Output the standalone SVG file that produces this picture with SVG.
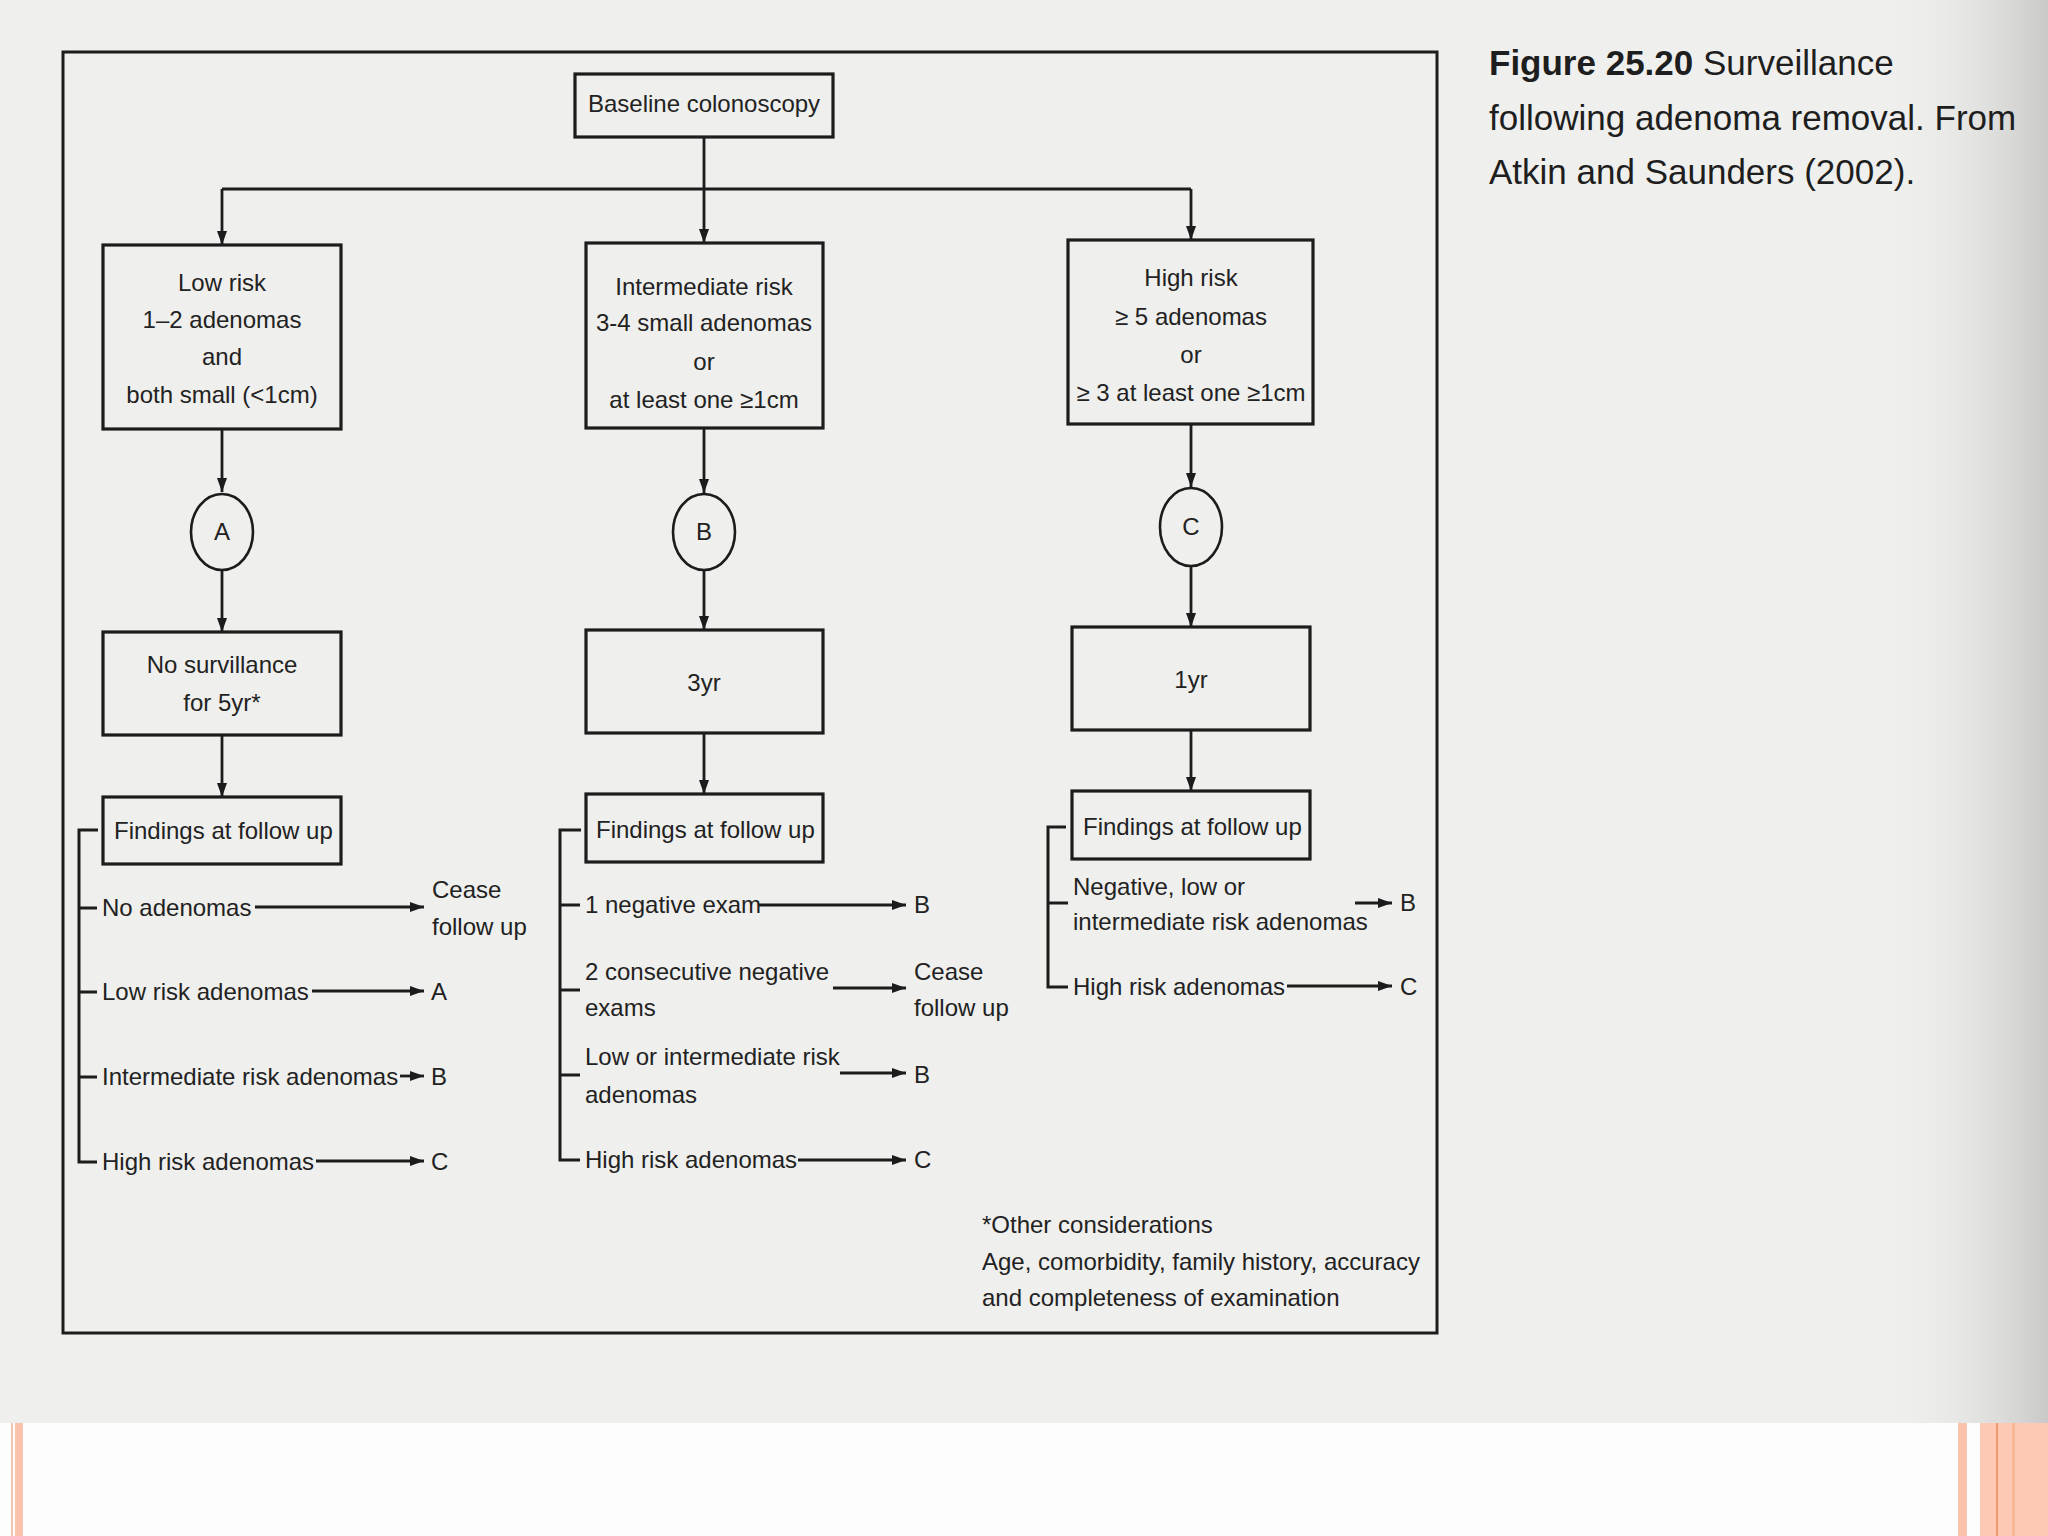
<svg xmlns="http://www.w3.org/2000/svg" width="2048" height="1536" viewBox="0 0 2048 1536">
  <defs>
    <linearGradient id="edge" x1="0" y1="0" x2="1" y2="0">
      <stop offset="0" stop-color="#efefed" stop-opacity="0"/>
      <stop offset="1" stop-color="#c9c9c7" stop-opacity="1"/>
    </linearGradient>
    <marker id="ah" viewBox="0 0 14 10" refX="14" refY="5" markerWidth="14" markerHeight="10" markerUnits="userSpaceOnUse" orient="auto">
      <path d="M0,0 L14,5 L0,10 z" fill="#1c1c1c"/>
    </marker>
    <style>
      .box { fill: none; stroke: #1c1c1c; stroke-width: 3.2; }
      .ell { fill: none; stroke: #1c1c1c; stroke-width: 2.6; }
      .ln { fill: none; stroke: #1c1c1c; stroke-width: 2.8; }
      .ar { fill: none; stroke: #1c1c1c; stroke-width: 2.8; marker-end: url(#ah); }
      .br { fill: none; stroke: #1c1c1c; stroke-width: 3; }
      text { font-family: "Liberation Sans", Arial, sans-serif; font-size: 24px; fill: #222; }
      .c { text-anchor: middle; }
      .cap { font-size: 35px; fill: #1e1e1e; }
      .bold { font-weight: bold; }
    </style>
  </defs>

  <!-- page background -->
  <rect x="0" y="0" width="2048" height="1536" fill="#fdfdfd"/>
  <rect x="0" y="0" width="2048" height="1423" fill="#efefed"/>
  <rect x="1880" y="0" width="168" height="1423" fill="url(#edge)"/>
  <!-- salmon strips -->
  <rect x="11" y="1423" width="2" height="113" fill="#f6c4b4"/>
  <rect x="15" y="1423" width="8" height="113" fill="#fbc3ab"/>
  <rect x="1958" y="1423" width="9" height="113" fill="#fbc3ab"/>
  <rect x="1980" y="1423" width="68" height="113" fill="#fdc8b4"/>
  <rect x="1996" y="1423" width="2" height="113" fill="#ef9a6e"/>
  <rect x="2012" y="1423" width="3" height="113" fill="#f8b896"/>

  <!-- outer frame -->
  <rect x="63" y="52" width="1374" height="1281" fill="none" stroke="#1c1c1c" stroke-width="3"/>

  <!-- caption -->
  <g id="caption">
    <text class="cap" x="1489" y="75"><tspan class="bold">Figure 25.20</tspan> Surveillance</text>
    <text class="cap" x="1489" y="130">following adenoma removal. From</text>
    <text class="cap" x="1489" y="184">Atkin and Saunders (2002).</text>
  </g>

  <!-- connectors -->
  <g id="connectors">
    <line class="ln" x1="704" y1="137" x2="704" y2="189"/>
    <line class="ln" x1="222" y1="189" x2="1191" y2="189"/>
    <line class="ar" x1="704" y1="189" x2="704" y2="243"/>
    <line class="ar" x1="222" y1="189" x2="222" y2="245"/>
    <line class="ar" x1="1191" y1="189" x2="1191" y2="240"/>

    <line class="ar" x1="222" y1="429" x2="222" y2="492"/>
    <line class="ar" x1="222" y1="571" x2="222" y2="632"/>
    <line class="ar" x1="222" y1="735" x2="222" y2="797"/>

    <line class="ar" x1="704" y1="428" x2="704" y2="493"/>
    <line class="ar" x1="704" y1="571" x2="704" y2="630"/>
    <line class="ar" x1="704" y1="733" x2="704" y2="794"/>

    <line class="ar" x1="1191" y1="424" x2="1191" y2="487"/>
    <line class="ar" x1="1191" y1="567" x2="1191" y2="627"/>
    <line class="ar" x1="1191" y1="730" x2="1191" y2="791"/>

    <!-- left bracket -->
    <path class="br" d="M98,830 H79 V1162 H97"/>
    <line class="br" x1="79" y1="908" x2="97" y2="908"/>
    <line class="br" x1="79" y1="992" x2="97" y2="992"/>
    <line class="br" x1="79" y1="1077" x2="97" y2="1077"/>
    <line class="ar" x1="255" y1="907" x2="424" y2="907"/>
    <line class="ar" x1="312" y1="991" x2="424" y2="991"/>
    <line class="ar" x1="400" y1="1076" x2="424" y2="1076"/>
    <line class="ar" x1="316" y1="1161" x2="424" y2="1161"/>

    <!-- middle bracket -->
    <path class="br" d="M581,830 H560 V1160 H580"/>
    <line class="br" x1="560" y1="905" x2="580" y2="905"/>
    <line class="br" x1="560" y1="990" x2="580" y2="990"/>
    <line class="br" x1="560" y1="1075" x2="580" y2="1075"/>
    <line class="ar" x1="759" y1="905" x2="906" y2="905"/>
    <line class="ar" x1="833" y1="988" x2="906" y2="988"/>
    <line class="ar" x1="840" y1="1073" x2="906" y2="1073"/>
    <line class="ar" x1="798" y1="1160" x2="906" y2="1160"/>

    <!-- right bracket -->
    <path class="br" d="M1066,827 H1048 V987 H1068"/>
    <line class="br" x1="1048" y1="903" x2="1068" y2="903"/>
    <line class="ar" x1="1355" y1="903" x2="1392" y2="903"/>
    <line class="ar" x1="1287" y1="986" x2="1392" y2="986"/>
  </g>

  <!-- nodes -->
  <g id="baseline">
    <rect class="box" x="575" y="74" width="258" height="63"/>
    <text class="c" x="704" y="112">Baseline colonoscopy</text>
  </g>

  <g id="low-risk">
    <rect class="box" x="103" y="245" width="238" height="184"/>
    <text class="c" x="222" y="291">Low risk</text>
    <text class="c" x="222" y="328">1–2 adenomas</text>
    <text class="c" x="222" y="365">and</text>
    <text class="c" x="222" y="403">both small (&lt;1cm)</text>
  </g>

  <g id="intermediate-risk">
    <rect class="box" x="586" y="243" width="237" height="185"/>
    <text class="c" x="704" y="295">Intermediate risk</text>
    <text class="c" x="704" y="331">3-4 small adenomas</text>
    <text class="c" x="704" y="370">or</text>
    <text class="c" x="704" y="408">at least one ≥1cm</text>
  </g>

  <g id="high-risk">
    <rect class="box" x="1068" y="240" width="245" height="184"/>
    <text class="c" x="1191" y="286">High risk</text>
    <text class="c" x="1191" y="325">≥ 5 adenomas</text>
    <text class="c" x="1191" y="363">or</text>
    <text class="c" x="1191" y="401">≥ 3 at least one ≥1cm</text>
  </g>

  <g id="circle-A">
    <ellipse class="ell" cx="222" cy="532" rx="31" ry="38"/>
    <text class="c" x="222" y="540">A</text>
  </g>
  <g id="circle-B">
    <ellipse class="ell" cx="704" cy="532" rx="31" ry="38"/>
    <text class="c" x="704" y="540">B</text>
  </g>
  <g id="circle-C">
    <ellipse class="ell" cx="1191" cy="527" rx="31" ry="39"/>
    <text class="c" x="1191" y="535">C</text>
  </g>

  <g id="no-surveillance">
    <rect class="box" x="103" y="632" width="238" height="103"/>
    <text class="c" x="222" y="673">No survillance</text>
    <text class="c" x="222" y="711">for 5yr*</text>
  </g>
  <g id="three-yr">
    <rect class="box" x="586" y="630" width="237" height="103"/>
    <text class="c" x="704" y="691">3yr</text>
  </g>
  <g id="one-yr">
    <rect class="box" x="1072" y="627" width="238" height="103"/>
    <text class="c" x="1191" y="688">1yr</text>
  </g>

  <g id="findings-left">
    <rect class="box" x="103" y="797" width="238" height="67"/>
    <text x="114" y="839">Findings at follow up</text>
  </g>
  <g id="findings-mid">
    <rect class="box" x="586" y="794" width="237" height="68"/>
    <text x="596" y="838">Findings at follow up</text>
  </g>
  <g id="findings-right">
    <rect class="box" x="1072" y="791" width="238" height="68"/>
    <text x="1083" y="835">Findings at follow up</text>
  </g>

  <!-- left outcomes -->
  <g id="left-outcomes">
    <text x="102" y="916">No adenomas</text>
    <text x="432" y="898">Cease</text>
    <text x="432" y="935">follow up</text>
    <text x="102" y="1000">Low risk adenomas</text>
    <text x="431" y="1000">A</text>
    <text x="102" y="1085">Intermediate risk adenomas</text>
    <text x="431" y="1085">B</text>
    <text x="102" y="1170">High risk adenomas</text>
    <text x="431" y="1170">C</text>
  </g>

  <!-- middle outcomes -->
  <g id="mid-outcomes">
    <text x="585" y="913">1 negative exam</text>
    <text x="914" y="913">B</text>
    <text x="585" y="980">2 consecutive negative</text>
    <text x="585" y="1016">exams</text>
    <text x="914" y="980">Cease</text>
    <text x="914" y="1016">follow up</text>
    <text x="585" y="1065">Low or intermediate risk</text>
    <text x="585" y="1103">adenomas</text>
    <text x="914" y="1083">B</text>
    <text x="585" y="1168">High risk adenomas</text>
    <text x="914" y="1168">C</text>
  </g>

  <!-- right outcomes -->
  <g id="right-outcomes">
    <text x="1073" y="895">Negative, low or</text>
    <text x="1073" y="930">intermediate risk adenomas</text>
    <text x="1400" y="911">B</text>
    <text x="1073" y="995">High risk adenomas</text>
    <text x="1400" y="995">C</text>
  </g>

  <!-- footnote -->
  <g id="footnote">
    <text x="982" y="1233">*Other considerations</text>
    <text x="982" y="1270">Age, comorbidity, family history, accuracy</text>
    <text x="982" y="1306">and completeness of examination</text>
  </g>
</svg>
